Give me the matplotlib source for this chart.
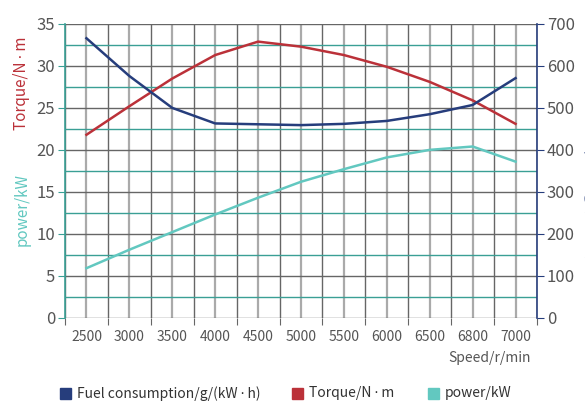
import matplotlib
matplotlib.use("Agg")
import matplotlib.pyplot as plt
from matplotlib.patches import Rectangle

plt.rcParams['font.family'] = ['Noto Sans CJK SC', 'DejaVu Sans']

speeds = ["2500", "3000", "3500", "4000", "4500", "5000", "5500", "6000", "6500", "6800", "7000"]
fuel = [666, 576, 500, 463, 461, 459, 462, 469, 485, 507, 571]
torque = [21.8, 25.2, 28.5, 31.3, 32.9, 32.3, 31.3, 29.9, 28.1, 25.9, 23.1]
power = [5.9, 8.1, 10.2, 12.3, 14.3, 16.2, 17.7, 19.1, 20.0, 20.4, 18.6]

left_ticks = [0, 5, 10, 15, 20, 25, 30, 35]
right_ticks = [0, 100, 200, 300, 400, 500, 600, 700]

dot = '\u2009\u22c5\u2009'
names = ['Fuel consumption/g/(kW' + dot + 'h)', 'Torque/N' + dot + 'm', 'power/kW']

navy = '#263d7c'
red = '#bb3139'
teal = '#62c8c0'
grid_teal = '#3a9f95'
label_gray = '#555555'

W, H = 585, 404
fig = plt.figure(figsize=(W / 100, H / 100), dpi=100)
ax = fig.add_axes([65 / W, (H - 317.7) / H, (537 - 65) / W, (317.7 - 24) / H])
ax2 = ax.twinx()

n = len(speeds)
xs = list(range(n))
ax.set_xlim(-0.5, n - 0.5)
ax.set_ylim(0, 35)
ax2.set_ylim(0, 700)

# grid: dark lines on category edges, light ones on centres
for k in range(n + 1):
    ax.axvline(k - 0.5, color='#666666', lw=1.0, zorder=1)
for k in xs:
    ax.axvline(k, color='#aaaaaa', lw=1.6, zorder=1)
for v in left_ticks:
    ax.axhline(v, color='#666666', lw=1.0, zorder=1)
for v in [2.5 + 5 * i for i in range(7)]:
    ax.axhline(v, color=grid_teal, lw=1.0, zorder=1)

ax.plot(xs, torque, color=red, lw=1.8, zorder=3)
ax.plot(xs, power, color=teal, lw=1.8, zorder=3)
ax2.plot(xs, fuel, color=navy, lw=1.8, zorder=3)

ax.set_xticks([k - 0.5 for k in range(n + 1)])
ax.set_xticklabels([])
ax.set_xticks(xs, minor=True)
ax.set_xticklabels(speeds, minor=True)
ax.tick_params(axis='x', which='major', length=5, color='#666666')
ax.tick_params(axis='x', which='minor', length=0, pad=9, labelsize=10, labelcolor=label_gray)

ax.set_yticks(left_ticks)
ax.tick_params(axis='y', length=5, color=grid_teal, labelsize=12, labelcolor=label_gray, pad=2)
ax2.set_yticks(right_ticks)
ax2.tick_params(axis='y', length=5, color=navy, labelsize=12, labelcolor=label_gray, pad=2)

for s in ['top', 'right', 'bottom']:
    ax.spines[s].set_visible(False)
ax.spines['left'].set_color(grid_teal)
ax.spines['left'].set_linewidth(1.2)
for s in ['top', 'left', 'bottom']:
    ax2.spines[s].set_visible(False)
ax2.spines['right'].set_color(navy)
ax2.spines['right'].set_linewidth(1.2)

fig.text(22 / W, 1 - 83 / H, names[1], color=red, rotation=90,
         ha='center', va='center', fontsize=11)
fig.text(22 / W, 1 - 210 / H, names[2], color=teal, rotation=90,
         ha='center', va='center', fontsize=11)
# axis name of the fuel axis, mostly off the right edge as in the original
fig.text(0.997, 1 - 160 / H, names[0], color=navy, alpha=0.5,
         rotation=270, ha='left', va='center', fontsize=11)
fig.text(531 / W, 1 - 358 / H, 'Speed/r/min', color=label_gray,
         ha='right', va='center', fontsize=10)

# legend
for colour, name, x0 in zip([navy, red, teal], names, [60, 292, 428]):
    fig.patches.append(Rectangle((x0 / W, (H - 399) / H), 11 / W, 11 / H,
                                 transform=fig.transFigure, color=colour))
    fig.text((x0 + 17) / W, (H - 393.5) / H, name, color='#333333',
             ha='left', va='center', fontsize=10)

fig.savefig('out.png', dpi=100)
